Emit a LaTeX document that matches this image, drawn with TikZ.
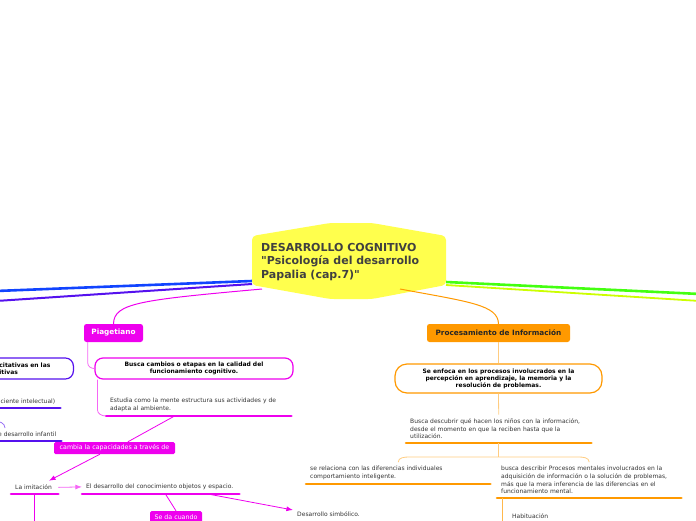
\documentclass[tikz,border=0pt]{standalone}
\usepackage{fontspec}
\setmainfont{DejaVu Sans}
\newfontfamily\titlefont{DejaVu Sans}
\usetikzlibrary{positioning,arrows.meta,calc}
\definecolor{mapYellow}{RGB}{255,255,77}
\definecolor{mapMag}{RGB}{238,0,238}
\definecolor{mapPurple}{RGB}{85,17,238}
\definecolor{mapBlue}{RGB}{17,68,255}
\definecolor{mapGreen}{RGB}{68,255,17}
\definecolor{mapLime}{RGB}{204,255,0}
\definecolor{mapOrange}{RGB}{255,153,0}
\definecolor{mapPale}{RGB}{255,204,128}
\definecolor{mapText}{RGB}{64,64,64}
\definecolor{mapInk}{RGB}{51,51,51}

\begin{document}
\begin{tikzpicture}[x=1pt,y=-1pt,>=Latex,
  small/.style={font=\fontsize{6}{7.6}\selectfont,text=mapInk,align=left,
    inner xsep=4pt,inner ysep=4pt,anchor=south west},
  boxtext/.style={font=\bfseries\fontsize{6}{7}\selectfont,align=center,
    fill=white,line width=1.2pt,rounded corners=8pt,inner sep=2pt},
  hub/.style={font=\bfseries\fontsize{7.3}{8}\selectfont,rounded corners=2.5pt,
    inner sep=0pt,minimum height=18pt},
  tag/.style={font=\fontsize{6.3}{7}\selectfont,text=white,fill=mapMag,
    rounded corners=1.5pt,inner sep=0pt,minimum height=12pt},
  uline/.style={line width=2.6pt,line cap=round},
  twig/.style={line width=0.8pt}]
  \useasboundingbox (0,0) rectangle (696,520);
  \clip (0,0) rectangle (696,520);

  % main branches
  \coordinate (coreB) at (252,281); \coordinate (offB) at (-4,291);
  \coordinate (coreP) at (252,284); \coordinate (offP) at (-4,301);
  \coordinate (coreG) at (446,282); \coordinate (offG) at (700,294);
  \coordinate (coreL) at (446,285); \coordinate (offL) at (700,301);
  \coordinate (coreM) at (262,289); \coordinate (coreO) at (400,289);
  \draw[mapBlue,line width=2.6pt] (coreB) -- (offB);
  \draw[mapPurple,line width=2pt] (coreP) -- (offP);
  \draw[mapGreen,line width=2.6pt] (coreG) -- (offG);
  \draw[mapLime,line width=1.8pt] (coreL) -- (offL);

  % central topic
  \fill[mapYellow,rounded corners=4pt] (252,236) -- (330,223) -- (372,223)
    -- (446,236) -- (446,285) -- (372,299) -- (330,299) -- (252,285) -- cycle;
  \node[font=\titlefont\bfseries\fontsize{11}{13.5}\selectfont,text=mapText,align=left,
    anchor=north west,inner sep=0pt] (core) at (261,243)
    {DESARROLLO COGNITIVO\\"Psicología del desarrollo\\Papalia (cap.7)"};

  % Piagetiano
  \node[hub,fill=mapMag,text=white,minimum width=59pt] (piaget) at (113.5,333) {Piagetiano};
  \draw[mapMag,line width=1pt] (coreM) .. controls (140,300) and (114,303) .. (piaget.north);
  \node[boxtext,draw=mapMag,minimum width=198pt,minimum height=21pt] (cambios) at (194,368.5)
    {Busca cambios o etapas en la calidad del\\funcionamiento cognitivo.};
  \draw[mapMag!60,twig] ([xshift=4pt]piaget.south west) -- ++(0,21)
    to[out=-90,in=180] (cambios.west);
  \node[small,text width=177pt] (estudia) at (106,416)
    {Estudia como la mente estructura sus actividades y de\\adapta al ambiente.};
  \draw[mapMag,uline] (estudia.south west) -- (estudia.south east);
  \draw[mapMag!60,twig] ([xshift=3pt]cambios.south west) -- ++(0,30)
    to[out=-90,in=180] (estudia.south west);
  \node[tag,minimum width=121pt] (cambia) at (114.5,448) {cambia la capacidades a través de};
  \draw[mapMag,twig] ($(estudia.south west)!0.37!(estudia.south east)$)
    -- ($(cambia.north west)!0.61!(cambia.north east)$);
  \node[small,text width=39pt] (imit) at (11,494) {La imitación};
  \draw[mapMag,uline] (imit.south west) -- (imit.south east);
  \draw[->,mapMag,twig] ($(cambia.south west)!0.38!(cambia.south east)$)
    -- ($(imit.north)!0.6!(imit.north east)$);
  \node[small,text width=149pt] (desarrollo) at (82,494)
    {El desarrollo del conocimiento objetos y espacio.};
  \draw[mapMag,uline] (desarrollo.south west) -- (desarrollo.south east);
  \draw[->,mapMag!60,twig] (imit.east) -- (desarrollo.west);
  \draw[mapMag,twig] (imit.south) -- ++(0,30);
  \node[tag,minimum width=52pt] (seda) at (176,517) {Se da cuando};
  \draw[mapMag,twig] ($(desarrollo.south west)!0.53!(desarrollo.south east)$) -- (seda.north);
  \node[small,anchor=west] (simb) at (293,514) {Desarrollo simbólico.};
  \draw[->,mapMag,twig] ($(desarrollo.south west)!0.8!(desarrollo.south east)$)
    -- ([yshift=4pt]simb.west);

  % purple branch (cut off at the left)
  \node[boxtext,draw=mapPurple,align=left,text width=60pt,inner xsep=14pt,
    minimum height=21pt,anchor=east] (cuant) at (74,368.5) {citativas en las\\itivas};
  \node[small,align=right,text width=76pt,inner xsep=5pt] (coef) at (-26,408) {ciente intelectual)};
  \draw[mapPurple,uline] (coef.south west) -- (coef.south east);
  \node[small,align=right,text width=77pt,inner xsep=5pt] (infan) at (-26,441) {e desarrollo infantil};
  \draw[mapPurple,uline] (infan.south west) -- (infan.south east);
  \coordinate (twigIn) at (-6,421);
  \draw[mapPurple!60,twig] (twigIn) to[out=0,in=90] (5,428);

  % Procesamiento de informacion
  \node[hub,fill=mapOrange,text=black!85,minimum width=143pt] (proc) at (498.5,333)
    {Procesamiento de Información};
  \draw[mapOrange,line width=1pt] (coreO) .. controls (470,302) and (498,305) .. (proc.north);
  \node[boxtext,draw=mapOrange,rounded corners=12pt,minimum width=207pt,minimum height=29pt]
    (enfoca) at (498.5,378.5)
    {Se enfoca en los procesos involucrados en  la\\percepción en aprendizaje, la memoria y la\\resolución de problemas.};
  \draw[mapPale,twig] (proc.south) -- (enfoca.north);
  \node[small,text width=177pt] (busca) at (406,443)
    {Busca descubrir qué hacen los niños con la información,\\desde el momento en que la reciben hasta que la\\utilización.};
  \draw[mapOrange,uline] (busca.south west) -- (busca.south east);
  \draw[mapPale,twig] (enfoca.south) -- (busca.north);
  \node[small,text width=176pt] (relac) at (306,484)
    {se relaciona con las diferencias individuales\\comportamiento inteligente.};
  \draw[mapOrange,uline] (relac.south west) -- (relac.south east);
  \node[small,text width=176pt] (descr) at (497,498)
    {busca describir Procesos  mentales involucrados en la\\adquisición de información o la solución de problemas,\\más que la mera inferencia de las diferencias en el\\funcionamiento mental.};
  \draw[mapOrange,uline] (descr.south west) -- (descr.south east);
  \draw[mapPale,twig] (busca.south) -- ++(0,14) coordinate (fork);
  \draw[mapPale,twig] (relac.north) to[out=90,in=180] ($(relac.north |- fork)+(11,0)$)
    -- ($(descr.north |- fork)+(-11,0)$) to[out=0,in=90] (descr.north);
  \node[small,anchor=west] (habit) at (508,516.5) {Habituación};
  \draw[mapOrange!70,twig] ([xshift=5pt]descr.south west) -- ++(0,30);
\end{tikzpicture}
\end{document}
